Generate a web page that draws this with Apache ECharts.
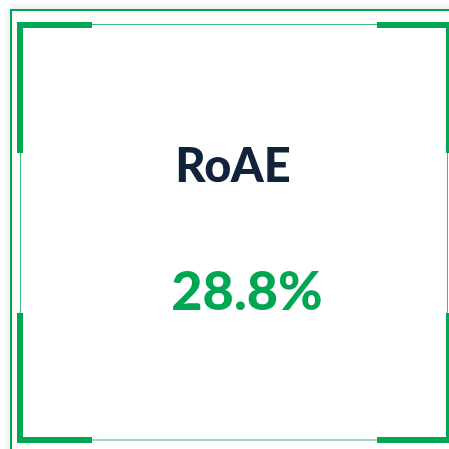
<!DOCTYPE html>
<html>
<head>
<meta charset="utf-8">
<script src="https://cdn.jsdelivr.net/npm/echarts@6/dist/echarts.min.js"></script>
<style>
  html, body { margin: 0; padding: 0; background: #fff; }
  #chart { width: 449px; height: 449px; }
</style>
</head>
<body>
<div id="chart"></div>
<script>
// KPI card data
const kpiLabels = ['RoAE'];
const kpiValues = [28.8];
const kpiUnits = ['%'];

const GREEN = '#00a651';
const NAVY = '#10233a';

const chart = echarts.init(document.getElementById('chart'));

// corner brackets, 6px thick
function bracket(x, y, w, h) {
  return { type: 'rect', shape: { x: x, y: y, width: w, height: h }, style: { fill: GREEN } };
}

const option = {
  backgroundColor: '#ffffff',
  graphic: [
    // outer frame with soft shadow
    {
      type: 'rect',
      shape: { x: 11, y: 10, width: 520, height: 520 },
      style: {
        fill: '#fff', stroke: GREEN, lineWidth: 2,
        shadowBlur: 8, shadowColor: 'rgba(0,0,0,0.12)'
      }
    },
    // thin inner frame
    {
      type: 'rect',
      shape: { x: 20.5, y: 24.5, width: 427, height: 415.5 },
      style: { fill: 'none', stroke: '#3dba7b', lineWidth: 1 }
    },
    bracket(17, 22, 75, 6),
    bracket(17, 22, 6, 131),
    bracket(17, 313, 6, 130),
    bracket(17, 437, 75, 6),
    bracket(377, 22, 80, 6),
    bracket(446, 22, 6, 131),
    bracket(446, 313, 6, 130),
    bracket(377, 437, 80, 6),
    {
      type: 'text',
      style: {
        text: kpiLabels[0],
        x: 233, y: 167,
        font: '900 47px Lato',
        fill: NAVY,
        align: 'center',
        verticalAlign: 'middle'
      }
    },
    {
      type: 'text',
      style: {
        text: kpiValues[0].toFixed(1) + kpiUnits[0],
        x: 247, y: 293,
        font: '900 54px Lato',
        fill: GREEN,
        align: 'center',
        verticalAlign: 'middle'
      }
    }
  ]
};

chart.setOption(option);
</script>
</body>
</html>
